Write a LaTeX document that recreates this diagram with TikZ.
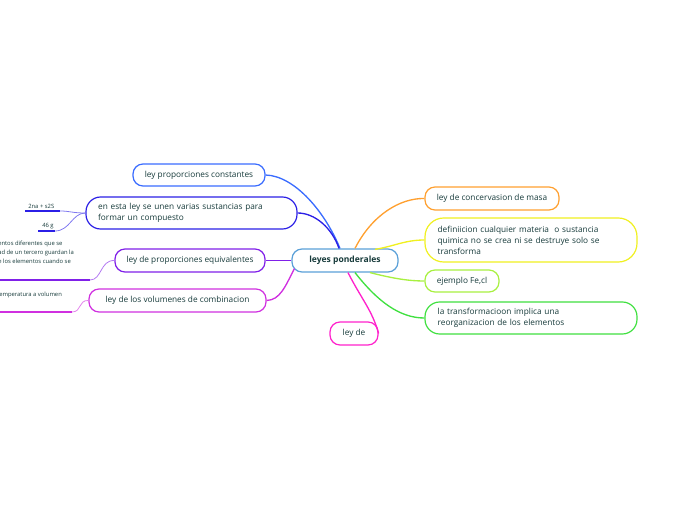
\documentclass[tikz,border=0pt]{standalone}
\usepackage{fontspec}
\setmainfont{Open Sans}
\usetikzlibrary{calc}
\definecolor{txt}{HTML}{173B3B}
\definecolor{cCenter}{HTML}{5AA0D8}
\definecolor{cA}{HTML}{3A6CFF}
\definecolor{cB}{HTML}{2B1FE6}
\definecolor{cC}{HTML}{8020E8}
\definecolor{cD}{HTML}{D030E0}
\definecolor{cE}{HTML}{FF22CC}
\definecolor{cF}{HTML}{FFA030}
\definecolor{cG}{HTML}{F0F020}
\definecolor{cH}{HTML}{A8F040}
\definecolor{cI}{HTML}{40E040}
\tikzset{
  box/.style={draw, fill=white, rounded corners=7.5pt, line width=0.9pt, text=txt,
    font=\fontsize{6.2}{8.2}\selectfont, inner sep=0pt, align=left},
  conn/.style={line width=1pt},
  sub/.style={line width=0.6pt},
  uline/.style={line width=1.6pt},
  small/.style={text=txt, font=\fontsize{4.4}{6.6}\selectfont, inner sep=0pt, align=left}
}
\begin{document}
\begin{tikzpicture}[x=0.75pt,y=-0.75pt]
\useasboundingbox (0,0) rectangle (696,520);
\clip (0,0) rectangle (696,520);
% nodes
\node[box, draw=cCenter, minimum width=79.5pt, minimum height=17.25pt,
  font=\fontsize{6.4}{8}\selectfont\bfseries] (c) at (345,260.5) {leyes ponderales};
\node[box, draw=cA, minimum width=99pt, minimum height=16.5pt] (a) at (199,175) {ley proporciones constantes};
\node[box, draw=cB, minimum width=158.25pt, minimum height=24pt, rounded corners=11pt,
  text width=140pt] (b) at (191.5,213) {en esta ley se unen varias sustancias para\\formar un compuesto};
\node[box, draw=cC, minimum width=112.5pt, minimum height=17.25pt] (cc) at (190,260.5) {ley de proporciones equivalentes};
\node[box, draw=cD, minimum width=132.75pt, minimum height=17.25pt] (d) at (177.5,300.5) {ley de los volumenes de combinacion};
\node[box, draw=cE, minimum width=36pt, minimum height=17.25pt] (e) at (354,333.5) {ley de};
\node[box, draw=cF, minimum width=100.5pt, minimum height=17.25pt] (f) at (492,198.5) {ley de concervasion de masa};
\node[box, draw=cG, minimum width=159pt, minimum height=33pt, rounded corners=14pt,
  text width=140pt] (g) at (531,240) {definiicion cualquier materia\ \ o sustancia\\quimica no se crea ni se destruye solo se\\transforma};
\node[box, draw=cH, minimum width=55.5pt, minimum height=16.5pt] (h) at (462,281) {ejemplo Fe,cl};
\node[box, draw=cI, minimum width=159pt, minimum height=24pt, rounded corners=11pt,
  text width=140pt] (i) at (531,318) {la transformacioon implica una\\reorganizacion de los elementos};
% sub topics
\node[small, anchor=south west] (s1) at (28,209) {2na + s2S};
\coordinate (u1a) at (25,211); \coordinate (u1b) at (60,211);
\node[small, anchor=south west] (s2) at (42,229) {46 g};
\coordinate (u2a) at (38,231); \coordinate (u2b) at (55,231);
\node[small, anchor=north west] (s3) at (-2,241) {entos diferentes que se\\ad de un tercero guardan la\\e los elementos cuando se};
\coordinate (u3a) at (0,280); \coordinate (u3b) at (90,280);
\node[small, anchor=north west] (s4) at (-1,292) {emperatura a volumen};
\coordinate (u4a) at (0,312); \coordinate (u4b) at (72,312);
% connectors
\draw[conn, cA] ($(c.north)+(-5,0)$) .. controls (325,212) and (295,176) .. (a.east);
\draw[conn, cB] ($(c.north)+(-6,0)$) .. controls (332,228) and (315,213) .. (b.east);
\draw[conn, cF] ($(c.north)+(10,0)$) .. controls (372,215) and (400,198) .. (f.west);
\draw[conn, cG] ($(c.north)+(30,1)$) .. controls (395,246) and (405,240) .. (g.west);
\draw[conn, cH] ($(c.south)+(25,0)$) .. controls (395,279) and (410,281) .. (h.west);
\draw[conn, cI] ($(c.south)+(10,0)$) .. controls (378,302) and (400,318) .. (i.west);
\draw[conn, cE] ($(c.south)+(3,0)$) .. controls (362,300) and (372,310) .. (e.east);
\draw[conn, cC] (c.west) -- (cc.east);
\draw[conn, cD] ($(c.south west)+(3,-4)$) .. controls (285,287) and (280,300) .. (d.east);
\draw[sub, cB!60] (b.west) .. controls (72,213) and (70,211) .. (u1b);
\draw[sub, cB!60] (b.west) .. controls (72,213) and (70,231) .. (u2b);
\draw[sub, cC!60] (cc.west) .. controls (100,260) and (102,280) .. (u3b);
\draw[sub, cD!60] (d.west) .. controls (78,300) and (82,312) .. (u4b);
\draw[uline, cB] (u1a) -- (u1b);
\draw[uline, cB] (u2a) -- (u2b);
\draw[uline, cC] (u3a) -- (u3b);
\draw[uline, cD] (u4a) -- (u4b);
\end{tikzpicture}
\end{document}
